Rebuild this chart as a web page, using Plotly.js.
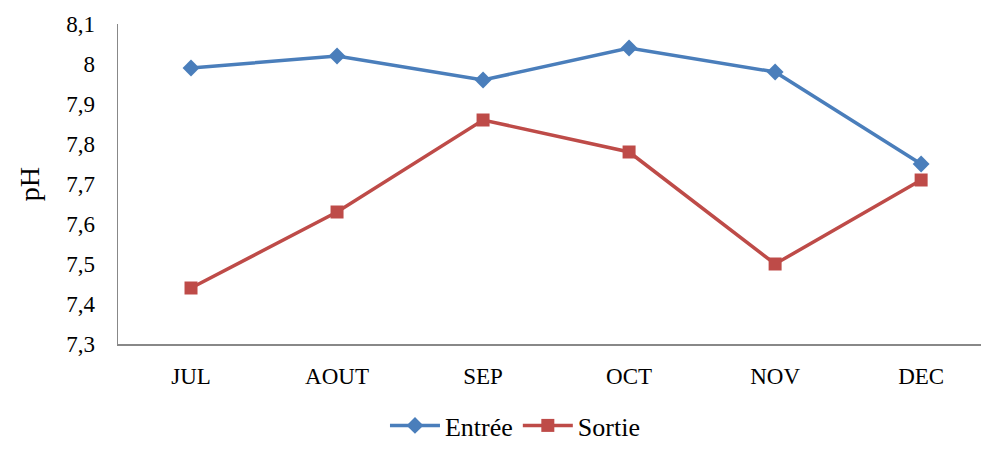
<!DOCTYPE html>
<html>
<head>
<meta charset="utf-8">
<script src="https://cdn.plot.ly/plotly-3.0.1.min.js"></script>
<style>html,body{margin:0;padding:0;background:#fff;}#chart{width:981px;height:449px;}</style>
</head>
<body>
<div id="chart"></div>
<script>
var months = ["JUL", "AOUT", "SEP", "OCT", "NOV", "DEC"];
var entree = [7.99, 8.02, 7.96, 8.04, 7.98, 7.75];
var sortie = [7.44, 7.63, 7.86, 7.78, 7.50, 7.71];
var yTicks = [7.3, 7.4, 7.5, 7.6, 7.7, 7.8, 7.9, 8, 8.1];

var font = "Liberation Serif";
var traces = [
  {x: months, y: entree, name: "Entrée", type: "scatter", mode: "lines+markers",
   line: {color: "#4A7EBB", width: 3.5}, marker: {symbol: "diamond", size: 13, color: "#4A7EBB"}},
  {x: months, y: sortie, name: "Sortie", type: "scatter", mode: "lines+markers",
   line: {color: "#BE4B48", width: 3.5}, marker: {symbol: "square", size: 13, color: "#BE4B48"}}
];
var layout = {
  width: 981, height: 449,
  separators: ", ",
  margin: {l: 118, r: 0, t: 24, b: 105},
  paper_bgcolor: "#fff", plot_bgcolor: "#fff",
  font: {family: font, size: 23, color: "#000"},
  showlegend: true,
  legend: {orientation: "h", x: 0.46, xanchor: "center", yref: "container", y: 0, yanchor: "bottom",
           font: {family: font, size: 26, color: "#000"}, itemwidth: 50},
  xaxis: {type: "category", range: [-0.5, 5.41], showgrid: false, zeroline: false,
          showline: true, linecolor: "#888", linewidth: 1.5, ticks: "", ticklabelstandoff: 11,
          tickfont: {family: font, size: 23, color: "#000"}, fixedrange: true},
  yaxis: {range: [7.3, 8.1], tickvals: yTicks, showgrid: false, zeroline: false,
          showline: true, linecolor: "#888", linewidth: 1.5, ticks: "", ticklabelstandoff: 17,
          tickfont: {family: font, size: 23, color: "#000"},
          title: {text: "pH", font: {family: font, size: 28, color: "#000"}, standoff: 18}}
};
Plotly.newPlot("chart", traces, layout, {displayModeBar: false, staticPlot: true});
</script>
</body>
</html>
